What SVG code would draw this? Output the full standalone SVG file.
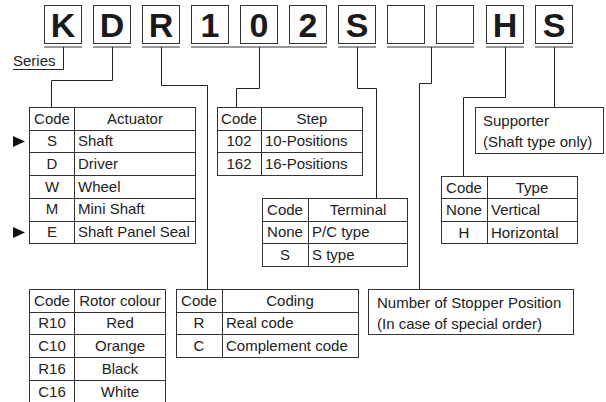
<svg xmlns="http://www.w3.org/2000/svg" width="606" height="402" viewBox="0 0 606 402">
<style>
text{font-family:"Liberation Sans",Arial,sans-serif;font-size:15px;fill:#222}
.big{font-size:34px;font-weight:bold;text-anchor:middle;fill:#1a1a1a}
.c{text-anchor:middle}
.box{fill:#fff;stroke:#333;stroke-width:1}
.ul{stroke:#999;stroke-width:2;fill:none}
.ln{stroke:#222;stroke-width:1;fill:none}
.tb{fill:#fff;stroke:#333;stroke-width:1}
.tl{stroke:#333;stroke-width:1;fill:none}
</style>
<rect width="606" height="402" fill="#fff"/>
<g id="code">
<rect class="box" x="44.5" y="5.5" width="37" height="38"/><text class="big" x="63" y="37">K</text>
<rect class="box" x="93.5" y="5.5" width="37" height="38"/><text class="big" x="112" y="37">D</text>
<rect class="box" x="142.5" y="5.5" width="37" height="38"/><text class="big" x="161" y="37">R</text>
<rect class="box" x="191.5" y="5.5" width="37" height="38"/><text class="big" x="210" y="37">1</text>
<rect class="box" x="240.5" y="5.5" width="37" height="38"/><text class="big" x="259" y="37">0</text>
<rect class="box" x="289.5" y="5.5" width="37" height="38"/><text class="big" x="308" y="37">2</text>
<rect class="box" x="338.5" y="5.5" width="37" height="38"/><text class="big" x="357" y="37">S</text>
<rect class="box" x="387.5" y="5.5" width="37" height="38"/>
<rect class="box" x="436.5" y="5.5" width="37" height="38"/>
<rect class="box" x="486.5" y="5.5" width="37" height="38"/><text class="big" x="505" y="37">H</text>
<rect class="box" x="535.5" y="5.5" width="37" height="38"/><text class="big" x="554" y="37">S</text>
<path class="ul" d="M44,47H82M93,47H131M142,47H180M191,47H327M338,47H376M387,47H474M486,47H524M535,47H573"/>
</g>
<g id="connectors">
<path class="ln" d="M63.5,47V69.5H13"/>
<path class="ln" d="M112.5,47V80.5H51.5V107"/>
<path class="ln" d="M161.5,47V85.5H207.5V289"/>
<path class="ln" d="M259.5,47V88.5H236.5V107"/>
<path class="ln" d="M357.5,47V88.5H376.5V198"/>
<path class="ln" d="M431.5,47V83.5H419.5V289"/>
<path class="ln" d="M505.5,47V97.5H463.5V176"/>
<path class="ln" d="M554.5,47V107"/>
</g>
<g id="series"><text x="13" y="66">Series</text></g>
<g id="actuator">
<rect class="tb" x="29.5" y="107.5" width="166" height="136"/>
<path class="tl" d="M74.5,107.5V243.5M29.5,130.5H195.5M29.5,152.5H195.5M29.5,175.5H195.5M29.5,198.5H195.5M29.5,221.5H195.5"/>
<text class="c" x="52" y="124">Code</text><text class="c" x="135" y="124">Actuator</text>
<text class="c" x="52" y="146">S</text><text x="78" y="146">Shaft</text>
<text class="c" x="52" y="169">D</text><text x="78" y="169">Driver</text>
<text class="c" x="52" y="192">W</text><text x="78" y="192">Wheel</text>
<text class="c" x="52" y="214">M</text><text x="78" y="214">Mini Shaft</text>
<text class="c" x="52" y="237">E</text><text x="78" y="237">Shaft Panel Seal</text>
<path d="M13,136L25,141.5L13,147Z M13,227L25,232.5L13,238Z" fill="#111"/>
</g>
<g id="step">
<rect class="tb" x="217.5" y="107.5" width="145" height="68"/>
<path class="tl" d="M261.5,107.5V175.5M217.5,130.5H362.5M217.5,152.5H362.5"/>
<text class="c" x="239" y="124">Code</text><text class="c" x="312" y="124">Step</text>
<text class="c" x="239" y="146">102</text><text x="265" y="146">10-Positions</text>
<text class="c" x="239" y="169">162</text><text x="265" y="169">16-Positions</text>
</g>
<g id="terminal">
<rect class="tb" x="262.5" y="198.5" width="145" height="68"/>
<path class="tl" d="M308.5,198.5V266.5M262.5,221.5H407.5M262.5,243.5H407.5"/>
<text class="c" x="285" y="215">Code</text><text class="c" x="358" y="215">Terminal</text>
<text class="c" x="285" y="237">None</text><text x="312" y="237">P/C type</text>
<text class="c" x="285" y="260">S</text><text x="312" y="260">S type</text>
</g>
<g id="supporter">
<rect class="tb" x="475.5" y="107.5" width="128" height="46"/>
<text x="483" y="126">Supporter</text>
<text x="483" y="147">(Shaft type only)</text>
</g>
<g id="type">
<rect class="tb" x="441.5" y="176.5" width="136" height="67"/>
<path class="tl" d="M487.5,176.5V243.5M441.5,198.5H577.5M441.5,221.5H577.5"/>
<text class="c" x="464" y="193">Code</text><text class="c" x="532" y="193">Type</text>
<text class="c" x="464" y="215">None</text><text x="491" y="215">Vertical</text>
<text class="c" x="464" y="238">H</text><text x="491" y="238">Horizontal</text>
</g>
<g id="rotor">
<path class="tl" d="M29.5,404V289.5H165.5V404M74.5,289.5V404M29.5,312.5H165.5M29.5,334.5H165.5M29.5,357.5H165.5M29.5,380.5H165.5"/>
<text class="c" x="52" y="306">Code</text><text class="c" x="120" y="306">Rotor colour</text>
<text class="c" x="52" y="328">R10</text><text class="c" x="120" y="328">Red</text>
<text class="c" x="52" y="351">C10</text><text class="c" x="120" y="351">Orange</text>
<text class="c" x="52" y="374">R16</text><text class="c" x="120" y="374">Black</text>
<text class="c" x="52" y="397">C16</text><text class="c" x="120" y="397">White</text>
</g>
<g id="coding">
<rect class="tb" x="176.5" y="289.5" width="182" height="68"/>
<path class="tl" d="M222.5,289.5V357.5M176.5,312.5H358.5M176.5,334.5H358.5"/>
<text class="c" x="199" y="306">Code</text><text class="c" x="290" y="306">Coding</text>
<text class="c" x="199" y="328">R</text><text x="226" y="328">Real code</text>
<text class="c" x="199" y="351">C</text><text x="226" y="351">Complement code</text>
</g>
<g id="stopper">
<rect class="tb" x="368.5" y="289.5" width="205" height="45"/>
<text x="377" y="308">Number of Stopper Position</text>
<text x="377" y="329">(In case of special order)</text>
</g>
</svg>
